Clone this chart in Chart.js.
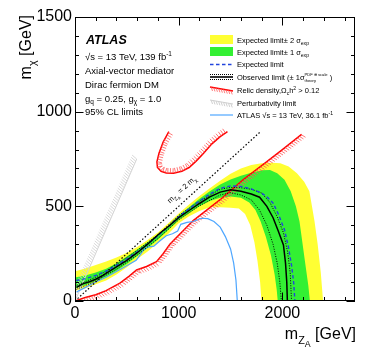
<!DOCTYPE html>
<html lang="en">
<head>
<meta charset="UTF-8">
<title>ATLAS axial-vector DM limits</title>
<script src="https://cdn.jsdelivr.net/npm/chart.js@4"></script>
<style>
  html, body { margin: 0; padding: 0; background: #fff; }
  canvas { display: block; }
</style>
</head>
<body>
<canvas id="chart" width="374" height="359"></canvas>
<script>
// values, all in GeV (x = m_ZA, y = m_chi)
const xTicks = [0, 1000, 2000];
const yTicks = [0, 500, 1000, 1500];

// +-2 sigma band edges
const yellowUpX = [10, 100, 200, 300, 400, 500, 600, 700, 800, 900, 1000, 1100, 1200, 1300, 1400, 1500, 1600, 1700, 1800, 1900, 1980, 2060, 2140, 2210, 2260, 2285, 2310, 2340, 2370, 2392];
const yellowUpY = [158, 172, 190, 208, 230, 255, 285, 322, 362, 410, 462, 510, 555, 595, 635, 672, 700, 718, 728, 730, 727, 710, 675, 630, 580, 500, 420, 300, 150, 0];
const yellowLoX = [10, 100, 200, 300, 400, 500, 600, 700, 800, 900, 1000, 1100, 1200, 1300, 1400, 1500, 1580, 1640, 1690, 1730, 1760, 1785, 1798];
const yellowLoY = [55, 68, 88, 108, 140, 178, 222, 262, 308, 355, 410, 448, 475, 495, 495, 492, 488, 460, 400, 310, 210, 100, 0];

// +-1 sigma band edges
const greenUpX = [10, 100, 200, 300, 400, 500, 600, 700, 800, 900, 1000, 1100, 1200, 1300, 1400, 1500, 1600, 1700, 1800, 1880, 1950, 2020, 2080, 2130, 2165, 2190, 2220, 2250, 2265];
const greenUpY = [125, 135, 150, 170, 200, 235, 272, 310, 352, 398, 452, 495, 540, 580, 615, 642, 662, 678, 690, 692, 675, 640, 580, 500, 420, 320, 200, 80, 0];
const greenLoX = [10, 100, 200, 300, 400, 500, 600, 700, 800, 900, 1000, 1100, 1200, 1300, 1400, 1500, 1600, 1680, 1740, 1790, 1840, 1890, 1925, 1945, 1955];
const greenLoY = [68, 84, 106, 128, 160, 196, 238, 280, 325, 375, 428, 465, 500, 528, 545, 552, 545, 520, 480, 420, 340, 240, 140, 60, 0];

// expected and observed limits
const expX = [12, 100, 200, 300, 400, 500, 600, 700, 800, 900, 1000, 1100, 1200, 1300, 1400, 1500, 1600, 1700, 1800, 1860, 1910, 1960, 2020, 2060, 2090, 2110, 2120];
const expY = [108, 118, 135, 158, 188, 222, 260, 300, 345, 392, 445, 488, 528, 565, 595, 608, 605, 592, 570, 545, 517, 460, 376, 280, 181, 90, 0];
const obsX = [15, 80, 140, 200, 273, 400, 500, 600, 700, 818, 915, 1000, 1100, 1200, 1300, 1400, 1500, 1600, 1700, 1780, 1850, 1910, 1960, 2010, 2030, 2042, 2048];
const obsY = [72, 92, 102, 115, 137, 180, 215, 255, 300, 358, 400, 440, 478, 515, 550, 575, 588, 580, 565, 548, 500, 440, 370, 296, 200, 100, 0];
const obsUpX = [15, 200, 400, 600, 800, 1000, 1200, 1400, 1500, 1600, 1700, 1800, 1880, 1950, 2010, 2050, 2075, 2088];
const obsUpY = [82, 126, 192, 268, 350, 452, 527, 590, 600, 598, 590, 570, 520, 445, 360, 260, 150, 0];
const obsDnX = [15, 200, 400, 600, 800, 1000, 1200, 1400, 1500, 1600, 1700, 1780, 1850, 1910, 1950, 1975, 1990];
const obsDnY = [62, 105, 168, 242, 330, 428, 503, 560, 572, 560, 534, 480, 400, 300, 200, 100, 0];

// relic density contours
const relicLoX = [0, 100, 200, 300, 433, 520, 594, 690, 786, 850, 915, 1140, 1400, 1620, 1800, 2000, 2185];
const relicLoY = [0, 18, 33, 55, 94, 130, 164, 182, 208, 250, 300, 425, 535, 640, 715, 800, 880];
const relicUX = [905, 850, 810, 790, 795, 830, 880, 950, 1030, 1100, 1170, 1240, 1320, 1400, 1470];
const relicUY = [895, 840, 780, 735, 705, 685, 676, 675, 685, 705, 740, 780, 830, 868, 895];

// perturbativity limit, 36.1 fb-1 result, m_ZA = 2 m_chi
const pertX = [0, 595];
const pertY = [0, 750];
const old36X = [15, 100, 200, 300, 430, 590, 630, 660, 700, 760, 820, 880, 940, 990, 1020, 1080, 1140, 1220, 1280, 1340, 1400, 1450, 1500, 1530, 1552, 1565];
const old36Y = [48, 72, 100, 125, 165, 215, 245, 270, 285, 290, 318, 345, 355, 370, 405, 415, 420, 437, 435, 420, 390, 340, 275, 200, 110, 0];
const diagX = [0, 1780];
const diagY = [0, 890];

const FONT = '"Liberation Sans", Arial, Helvetica, sans-serif';

const pts = (xs, ys) => xs.map((x, i) => ({ x: x, y: ys[i] }));
const band = (ux, uy, lx, ly) => pts(ux, uy).concat(pts(lx, ly).reverse());

// text with sub/superscripts: [text, kind] kind n | b (sub) | p (sup) | bb (sub of sub) | pb (stacked [sup, sub])
function rich(ctx, x, y, parts, size, align, style) {
    style = style || '';
    const f = s => `${style}${s}px ${FONT}`;
    const fs = k => k === 'n' ? size : k === 'bb' ? size * 0.55 : k === 'pb' ? size * 0.55 : size * 0.68;
    const dy = k => k === 'b' ? size * 0.3 : k === 'p' ? -size * 0.42 : k === 'bb' ? size * 0.5 : 0;
    const widths = parts.map(([t, k]) => {
        ctx.font = f(fs(k));
        if (k === 'pb') return Math.max(ctx.measureText(t[0]).width, ctx.measureText(t[1]).width);
        return ctx.measureText(t).width;
    });
    const total = widths.reduce((a, b) => a + b, 0);
    let cx = align === 'right' ? x - total : align === 'center' ? x - total / 2 : x;
    ctx.textAlign = 'left';
    ctx.textBaseline = 'alphabetic';
    parts.forEach(([t, k], i) => {
        ctx.font = f(fs(k));
        if (k === 'pb') {
            ctx.fillText(t[0], cx, y - size * 0.5);
            ctx.fillText(t[1], cx, y + size * 0.3);
        } else {
            ctx.fillText(t, cx, y + dy(k));
        }
        cx += widths[i];
    });
}

// short strokes along a pixel polyline, on one side of it
function hatchPath(ctx, p, side, len, gap, tilt) {
    let carry = gap / 2;
    const c = Math.cos(tilt), s = Math.sin(tilt);
    for (let i = 0; i < p.length - 1; i++) {
        const dx = p[i + 1].x - p[i].x, dy = p[i + 1].y - p[i].y;
        const L = Math.hypot(dx, dy);
        if (!L) continue;
        const ux = dx / L, uy = dy / L;
        const nx = -uy * side, ny = ux * side;
        const hx = nx * c - ny * s, hy = nx * s + ny * c;
        let d = carry;
        while (d < L) {
            const x = p[i].x + ux * d, y = p[i].y + uy * d;
            ctx.moveTo(x, y);
            ctx.lineTo(x + hx * len, y + hy * len);
            d += gap;
        }
        carry = d - L;
    }
}

const decor = {
    id: 'decor',
    beforeDraw(chart) {
        const ctx = chart.ctx;
        ctx.save();
        ctx.fillStyle = '#fff';
        ctx.fillRect(0, 0, chart.width, chart.height);
        ctx.restore();
    },
    afterDatasetDraw(chart, args) {
        const h = chart.data.datasets[args.index].hatch;
        if (!h) return;
        const ctx = chart.ctx, a = chart.chartArea;
        ctx.save();
        ctx.beginPath();
        ctx.rect(a.left, a.top, a.right - a.left, a.bottom - a.top);
        ctx.clip();
        ctx.beginPath();
        ctx.strokeStyle = h.color;
        ctx.lineWidth = h.width;
        hatchPath(ctx, args.meta.data, h.side, h.len, h.gap, h.tilt);
        ctx.stroke();
        ctx.restore();
    },
    afterDraw(chart) {
        const ctx = chart.ctx, a = chart.chartArea;
        const xs = chart.scales.x, ys = chart.scales.y;
        ctx.save();

        // frame and inward ticks
        ctx.strokeStyle = '#000';
        ctx.lineWidth = 1;
        ctx.strokeRect(a.left + 0.5, a.top + 0.5, a.right - a.left - 1, a.bottom - a.top - 1);
        ctx.beginPath();
        for (let v = 0; v <= 1500; v += 100) {
            const y = Math.round(ys.getPixelForValue(v)) + 0.5;
            const L = v % 500 === 0 ? 8.5 : 4;
            ctx.moveTo(a.left, y); ctx.lineTo(a.left + L, y);
            ctx.moveTo(a.right, y); ctx.lineTo(a.right - L, y);
        }
        for (let v = 0; v <= 2700; v += 200) {
            const x = Math.round(xs.getPixelForValue(v)) + 0.5;
            const L = v % 1000 === 0 ? 8.5 : 4;
            ctx.moveTo(x, a.bottom); ctx.lineTo(x, a.bottom - L);
            ctx.moveTo(x, a.top); ctx.lineTo(x, a.top + L);
        }
        ctx.stroke();

        ctx.fillStyle = '#000';
        // axis titles
        rich(ctx, 356, 339, [['m', 'n'], ['Z', 'b'], ['A', 'bb'], [' [GeV]', 'n']], 16, 'right');
        ctx.save();
        ctx.translate(31, 15);
        ctx.rotate(-Math.PI / 2);
        rich(ctx, 0, 0, [['m', 'n'], ['χ', 'b'], [' [GeV]', 'n']], 16, 'right');
        ctx.restore();

        // left text block
        ctx.font = `italic bold 12.5px ${FONT}`;
        ctx.textAlign = 'left';
        ctx.textBaseline = 'alphabetic';
        ctx.fillText('ATLAS', 86, 44);
        rich(ctx, 85, 60, [['√s = 13 TeV, 139 fb', 'n'], ['-1', 'p']], 9.5);
        rich(ctx, 85, 74, [['Axial-vector mediator', 'n']], 9.5);
        rich(ctx, 85, 88, [['Dirac fermion DM', 'n']], 9.5);
        rich(ctx, 85, 101.5, [['g', 'n'], ['q', 'b'], [' = 0.25, g', 'n'], ['χ', 'b'], [' = 1.0', 'n']], 9.5);
        rich(ctx, 85, 115, [['95% CL limits', 'n']], 9.5);

        // diagonal label
        const p0x = xs.getPixelForValue(diagX[0]), p0y = ys.getPixelForValue(diagY[0]);
        const p1x = xs.getPixelForValue(diagX[1]), p1y = ys.getPixelForValue(diagY[1]);
        const ang = Math.atan2(p1y - p0y, p1x - p0x);
        const mx = xs.getPixelForValue(1095), my = ys.getPixelForValue(547.5);
        ctx.save();
        ctx.translate(mx + Math.sin(ang) * 8, my - Math.cos(ang) * 8);
        ctx.rotate(ang);
        rich(ctx, 0, 0, [['m', 'n'], ['Z', 'b'], ['A', 'bb'], [' = 2 m', 'n'], ['χ', 'b']], 7.5, 'center');
        ctx.restore();

        // legend
        const lx = 210, lw = 23, tx = 237, fsz = 7.5;
        ctx.fillStyle = '#ffff33';
        ctx.fillRect(lx, 35, lw, 9);
        ctx.fillStyle = '#33f033';
        ctx.fillRect(lx, 47, lw, 9);
        ctx.lineWidth = 1.3;
        ctx.strokeStyle = '#2244dd';
        ctx.setLineDash([3.5, 2.5]);
        ctx.beginPath(); ctx.moveTo(lx, 64.5); ctx.lineTo(lx + lw, 64.5); ctx.stroke();
        ctx.strokeStyle = '#000';
        ctx.setLineDash([1, 1]);
        ctx.lineWidth = 1;
        ctx.beginPath();
        ctx.moveTo(lx, 74.5); ctx.lineTo(lx + lw, 74.5);
        ctx.moveTo(lx, 79.5); ctx.lineTo(lx + lw, 79.5);
        ctx.stroke();
        ctx.setLineDash([]);
        ctx.lineWidth = 1.6;
        ctx.beginPath(); ctx.moveTo(lx, 77); ctx.lineTo(lx + lw, 77); ctx.stroke();
        ctx.strokeStyle = '#ff0000';
        ctx.lineWidth = 1.3;
        ctx.beginPath(); ctx.moveTo(lx, 87); ctx.lineTo(lx + lw, 91); ctx.stroke();
        ctx.strokeStyle = '#ff6060';
        ctx.lineWidth = 0.8;
        ctx.beginPath();
        hatchPath(ctx, [{ x: lx, y: 87 }, { x: lx + lw, y: 91 }], 1, 4, 2.5, -0.5);
        ctx.stroke();
        ctx.strokeStyle = '#d0d0d0';
        ctx.lineWidth = 1;
        ctx.beginPath(); ctx.moveTo(lx, 100); ctx.lineTo(lx + lw, 104); ctx.stroke();
        ctx.beginPath();
        hatchPath(ctx, [{ x: lx, y: 100 }, { x: lx + lw, y: 104 }], 1, 4, 2.5, -0.5);
        ctx.stroke();
        ctx.strokeStyle = '#4da6ff';
        ctx.lineWidth = 1.2;
        ctx.beginPath(); ctx.moveTo(lx, 115); ctx.lineTo(lx + lw, 115); ctx.stroke();

        ctx.fillStyle = '#000';
        rich(ctx, tx, 42.5, [['Expected limit± 2 σ', 'n'], ['exp', 'b']], fsz);
        rich(ctx, tx, 54.5, [['Expected limit± 1 σ', 'n'], ['exp', 'b']], fsz);
        rich(ctx, tx, 67.2, [['Expected limit', 'n']], fsz);
        rich(ctx, tx, 80, [['Observed limit (± 1σ', 'n'], [['PDF ⊕ scale', 'theory'], 'pb'], [' )', 'n']], fsz);
        rich(ctx, tx, 93, [['Relic density,Ω', 'n'], ['c', 'b'], ['h', 'n'], ['2', 'p'], [' > 0.12', 'n']], fsz);
        rich(ctx, tx, 105.5, [['Perturbativity limit', 'n']], fsz);
        rich(ctx, tx, 118, [['ATLAS √s = 13 TeV, 36.1 fb', 'n'], ['-1', 'p']], fsz);
        ctx.restore();
    }
};

const lineDs = (data, color, width, extra) => Object.assign({
    data: data, showLine: true, fill: false, borderColor: color, borderWidth: width,
    pointRadius: 0, pointHoverRadius: 0, tension: 0
}, extra || {});

new Chart(document.getElementById('chart'), {
    type: 'scatter',
    data: {
        datasets: [
            lineDs(band(yellowUpX, yellowUpY, yellowLoX, yellowLoY), 'rgba(0,0,0,0)', 0,
                { fill: 'shape', backgroundColor: '#ffff33', order: 20 }),
            lineDs(band(greenUpX, greenUpY, greenLoX, greenLoY), 'rgba(0,0,0,0)', 0,
                { fill: 'shape', backgroundColor: '#33f033', order: 19 }),
            lineDs(pts(relicLoX, relicLoY), '#ff0000', 1.5,
                { order: 15, hatch: { side: 1, len: 5, gap: 2.6, tilt: -0.35, color: '#ff5555', width: 0.8 } }),
            lineDs(pts(relicUX, relicUY), '#ff0000', 1.5,
                { order: 14, hatch: { side: -1, len: 5, gap: 2.6, tilt: 0, color: '#ff5555', width: 0.8 } }),
            lineDs(pts(pertX, pertY), '#d4d4d4', 1,
                { order: 13, hatch: { side: -1, len: 6, gap: 2.4, tilt: 0.3, color: '#d4d4d4', width: 0.9 } }),
            lineDs(pts(old36X, old36Y), '#4da6ff', 1.2, { order: 12 }),
            lineDs(pts(diagX, diagY), '#000', 1.2, { order: 11, borderDash: [1.5, 2] }),
            lineDs(pts(obsUpX, obsUpY), '#000', 1, { order: 5, borderDash: [1, 1.5] }),
            lineDs(pts(obsDnX, obsDnY), '#000', 1, { order: 4, borderDash: [1, 1.5] }),
            lineDs(pts(expX, expY), '#2244dd', 1.4, { order: 3, borderDash: [3.5, 2.5] }),
            lineDs(pts(obsX, obsY), '#000', 1.5, { order: 2 })
        ]
    },
    options: {
        responsive: false,
        animation: false,
        events: [],
        layout: { padding: { top: 17, right: 19, left: 0, bottom: 0 } },
        plugins: { legend: { display: false }, tooltip: { enabled: false } },
        scales: {
            x: {
                type: 'linear', min: 0, max: 2700,
                afterFit: s => { s.height = 58; },
                afterBuildTicks: s => { s.ticks = xTicks.map(v => ({ value: v })); },
                grid: { display: false, drawTicks: false },
                border: { display: false },
                ticks: { color: '#000', font: { family: FONT, size: 16 }, padding: 3, maxRotation: 0, autoSkip: false,
                         callback: v => String(v) }
            },
            y: {
                type: 'linear', min: 0, max: 1500,
                afterFit: s => { s.width = 75; },
                afterBuildTicks: s => { s.ticks = yTicks.map(v => ({ value: v })); },
                grid: { display: false, drawTicks: false },
                border: { display: false },
                ticks: { color: '#000', font: { family: FONT, size: 16 }, padding: 3, autoSkip: false,
                         callback: v => String(v) }
            }
        }
    },
    plugins: [decor]
});
</script>
</body>
</html>
